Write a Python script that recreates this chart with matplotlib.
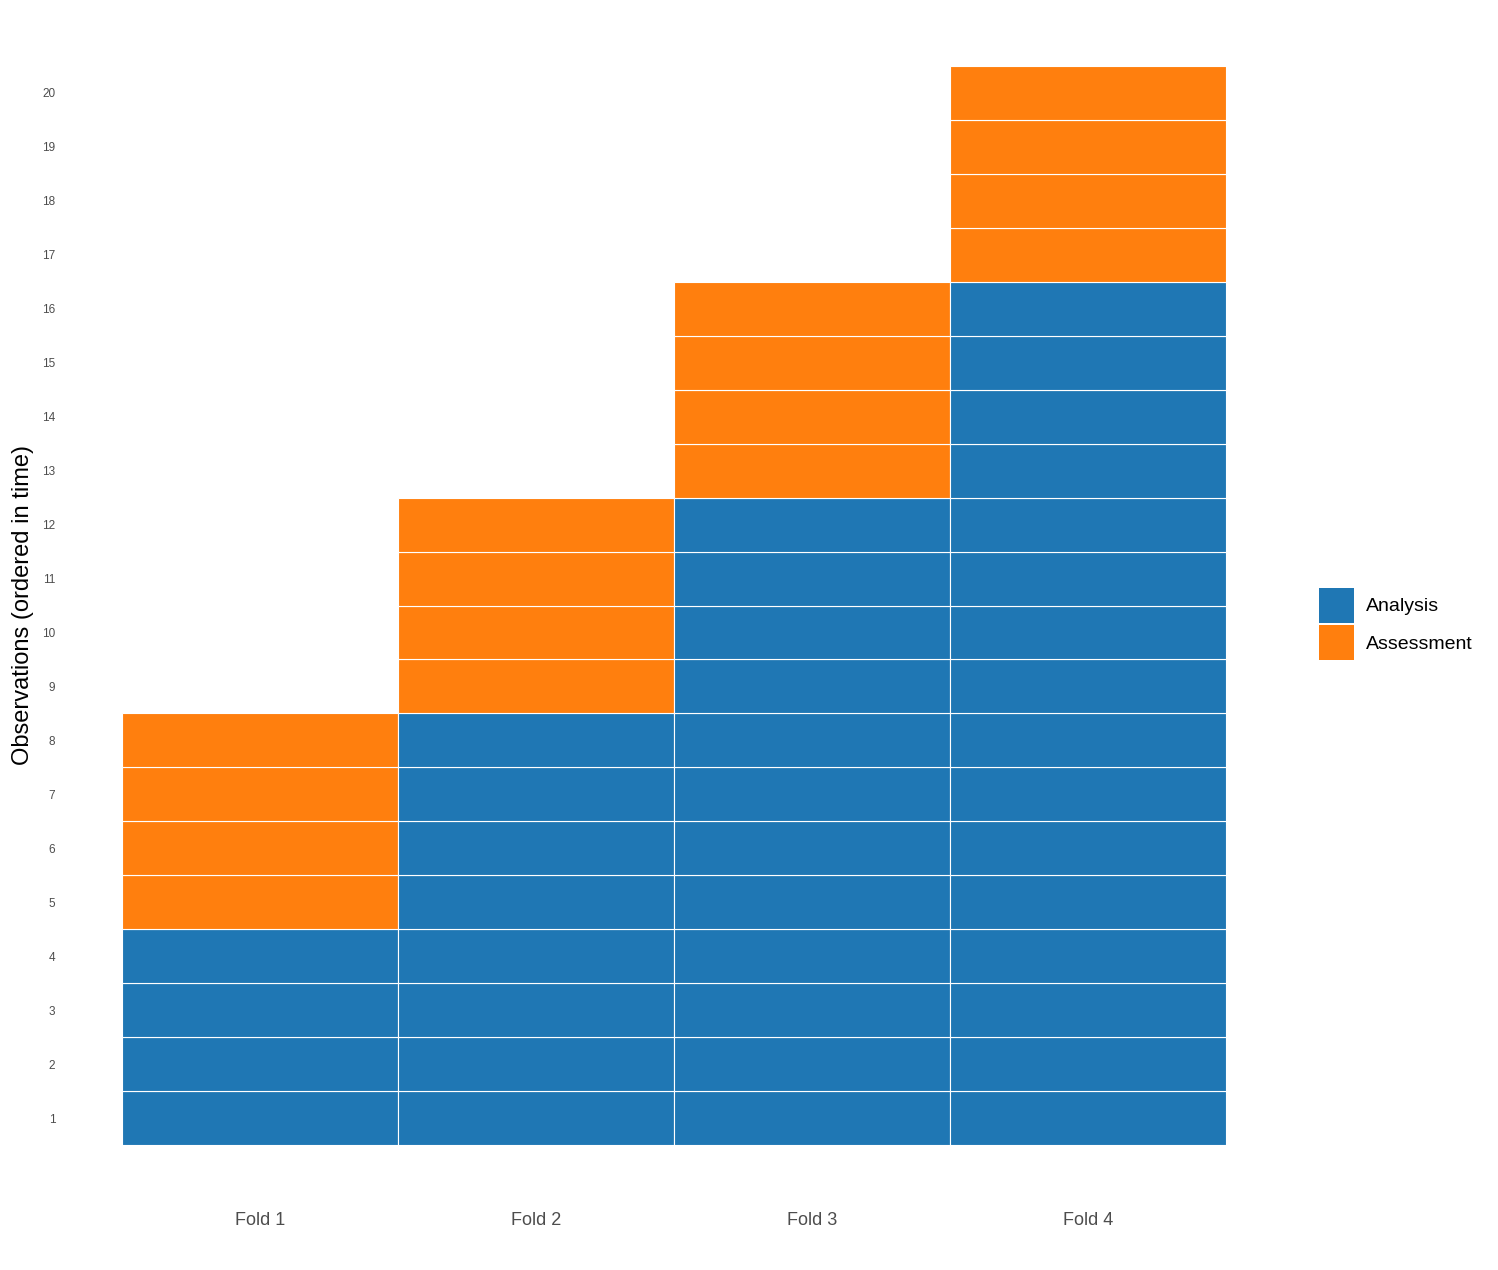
import matplotlib.pyplot as plt
from matplotlib.patches import Patch

plt.rcParams['font.family'] = ['Liberation Sans', 'DejaVu Sans']

# rolling-origin resampling: which observation sits in which set per fold
folds = ['Fold 1', 'Fold 2', 'Fold 3', 'Fold 4']
analysis_end = [4, 8, 12, 16]      # observations 1..n used for analysis
assessment_end = [8, 12, 16, 20]   # next observations up to this one are assessment
obs_ticks = list(range(1, 21))

colors = {'Analysis': '#1F77B4', 'Assessment': '#FF7F0E'}

fig = plt.figure(figsize=(14.98, 12.7), dpi=100)
ax = fig.add_axes([122 / 1498, 125 / 1270, (1226 - 122) / 1498, (1145 - 66) / 1270])

for i, fold in enumerate(folds):
    for obs in range(1, assessment_end[i] + 1):
        kind = 'Analysis' if obs <= analysis_end[i] else 'Assessment'
        ax.bar(i + 1, 1, bottom=obs - 0.5, width=1, color=colors[kind],
               edgecolor='white', linewidth=0.8)

ax.set_xlim(0.5, 4.5)
ax.set_ylim(0.5, 20.5)
ax.set_xticks(range(1, 5))
ax.set_xticklabels(folds, fontsize=13, color='#4d4d4d')
ax.set_yticks(obs_ticks)
ax.set_yticklabels([str(o) for o in obs_ticks], fontsize=8.5, color='#4d4d4d')
ax.tick_params(axis='x', length=0, pad=48)
ax.tick_params(axis='y', length=0, pad=48)
for s in ax.spines.values():
    s.set_visible(False)

fig.text(23 / 1498, 1 - 605 / 1270, 'Observations (ordered in time)', rotation=90,
         fontsize=17, ha='center', va='center')

handles = [Patch(facecolor=colors[k], edgecolor='none', label=k) for k in colors]
fig.legend(handles=handles, loc='center left', bbox_to_anchor=(1303 / 1498, 1 - 624 / 1270),
           frameon=False, fontsize=14, handlelength=1.8, handleheight=2.39,
           labelspacing=0.15, handletextpad=0.65, borderpad=0.3)

plt.savefig('out.png', dpi=100)
